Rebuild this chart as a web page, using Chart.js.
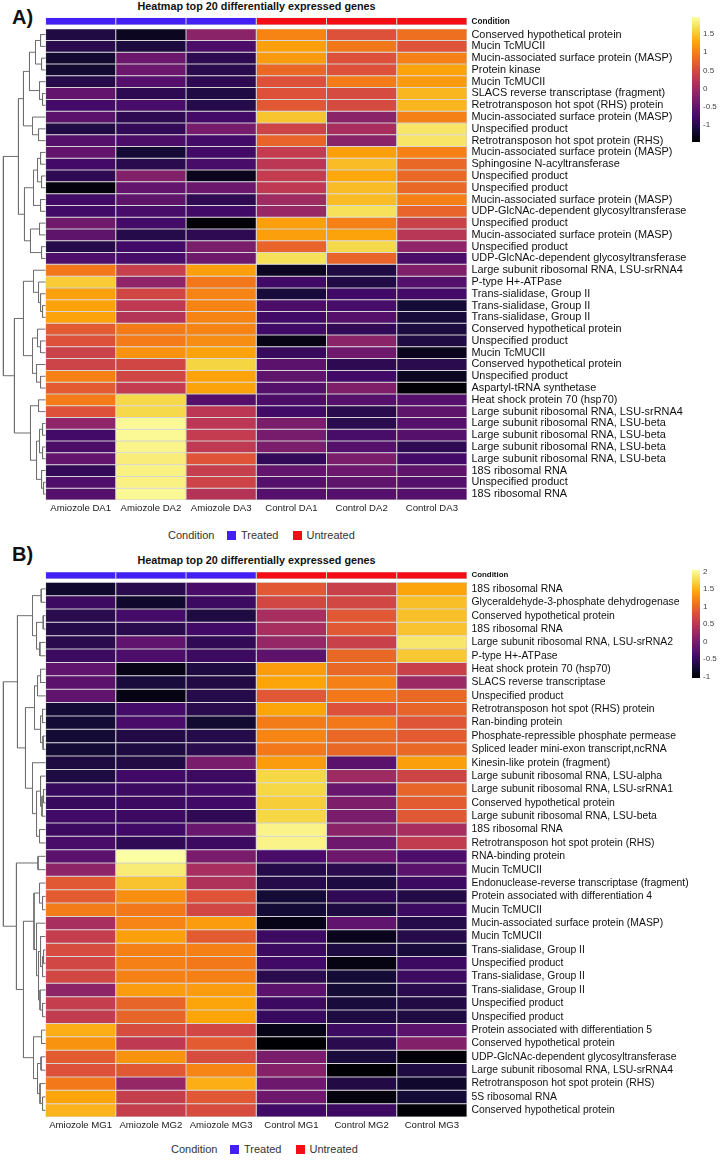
<!DOCTYPE html>
<html>
<head>
<meta charset="utf-8">
<script src="https://cdn.jsdelivr.net/npm/chart.js@4.4.1/dist/chart.umd.min.js"></script>
<style>
  html,body{margin:0;padding:0;background:#fff;}
  body{width:724px;height:1160px;position:relative;overflow:hidden;font-family:"Liberation Sans",Arial,Helvetica,sans-serif;}
  canvas{position:absolute;}
  .panel{position:absolute;left:12px;font-weight:bold;font-size:20px;line-height:20px;color:#111;}
  .title{position:absolute;left:0;width:513px;text-align:center;font-weight:bold;font-size:10.8px;line-height:10.8px;color:#111;white-space:nowrap;}
  .legend{position:absolute;display:flex;align-items:center;height:12px;font-size:11px;color:#333;white-space:nowrap;}
  .legend .sw{display:inline-block;width:9px;height:9px;}
</style>
</head>
<body>
<div class="panel" style="top:6.5px">A)</div>
<div class="title" style="top:1px">Heatmap top 20 differentially expressed genes</div>
<canvas id="heatA" width="724" height="520" style="left:0;top:0"></canvas>
<canvas id="cbA" width="34" height="145" style="left:690px;top:7px"></canvas>
<div class="legend" id="legA" style="left:168px;top:529px"></div>

<div class="panel" style="top:544px">B)</div>
<div class="title" style="top:555px">Heatmap top 20 differentially expressed genes</div>
<canvas id="heatB" width="724" height="592" style="left:0;top:545px"></canvas>
<canvas id="cbB" width="34" height="128" style="left:690px;top:560px"></canvas>
<div class="legend" id="legB" style="left:171px;top:1143px"></div>

<script>
// ---------------- DATA ----------------
const conditionLevels = ['Treated', 'Untreated'];
const conditionColors = ['#4420F6', '#F40D17'];

// Panel A
const colLabelsA = ['Amiozole DA1', 'Amiozole DA2', 'Amiozole DA3', 'Control DA1', 'Control DA2', 'Control DA3'];
const conditionA = ['Treated', 'Treated', 'Treated', 'Untreated', 'Untreated', 'Untreated'];
const rowLabelsA = [
  'Conserved hypothetical protein',
  'Mucin TcMUCII',
  'Mucin-associated surface protein (MASP)',
  'Protein kinase',
  'Mucin TcMUCII',
  'SLACS reverse transcriptase (fragment)',
  'Retrotransposon hot spot (RHS) protein',
  'Mucin-associated surface protein (MASP)',
  'Unspecified product',
  'Retrotransposon hot spot protein (RHS)',
  'Mucin-associated surface protein (MASP)',
  'Sphingosine N-acyltransferase',
  'Unspecified product',
  'Unspecified product',
  'Mucin-associated surface protein (MASP)',
  'UDP-GlcNAc-dependent glycosyltransferase',
  'Unspecified product',
  'Mucin-associated surface protein (MASP)',
  'Unspecified product',
  'UDP-GlcNAc-dependent glycosyltransferase',
  'Large subunit ribosomal RNA, LSU-srRNA4',
  'P-type H+-ATPase',
  'Trans-sialidase, Group II',
  'Trans-sialidase, Group II',
  'Trans-sialidase, Group II',
  'Conserved hypothetical protein',
  'Unspecified product',
  'Mucin TcMUCII',
  'Conserved hypothetical protein',
  'Unspecified product',
  'Aspartyl-tRNA synthetase',
  'Heat shock protein 70 (hsp70)',
  'Large subunit ribosomal RNA, LSU-srRNA4',
  'Large subunit ribosomal RNA, LSU-beta',
  'Large subunit ribosomal RNA, LSU-beta',
  'Large subunit ribosomal RNA, LSU-beta',
  'Large subunit ribosomal RNA, LSU-beta',
  '18S ribosomal RNA',
  'Unspecified product',
  '18S ribosomal RNA'
];
const valuesA = [
  [-1.05,-1.28,-0.16, 1.03, 0.59, 0.86],
  [-0.97,-1.08,-0.70, 1.24, 0.93, 0.62],
  [-1.18,-0.43,-0.94, 1.20, 0.59, 1.00],
  [-1.18,-0.43,-0.97, 0.80, 0.59, 1.27],
  [-1.00,-0.63,-0.94, 0.59, 0.96, 1.20],
  [-0.50,-0.94,-1.04, 0.59, 0.52, 1.40],
  [-0.77,-0.73,-1.00, 0.66, 0.52, 1.40],
  [-0.57,-0.94,-0.77, 1.50,-0.16, 1.00],
  [-1.04,-0.90,-0.33, 0.42, 0.08, 1.75],
  [-0.63,-0.70,-0.77, 0.76,-0.16, 1.75],
  [-0.50,-1.15,-0.80, 0.32, 1.24, 1.00],
  [-0.77,-0.97,-0.73, 0.25, 1.44, 0.80],
  [-0.94,-0.23,-1.31, 0.32, 1.30, 0.80],
  [-1.42,-0.50,-0.43, 0.28, 1.44, 0.80],
  [-0.80,-0.53,-0.94, 0.00, 1.44, 1.00],
  [-0.80,-0.73,-0.80,-0.06, 1.70, 0.76],
  [-0.40,-0.77,-1.45, 1.24, 1.00, 0.39],
  [-0.53,-1.00,-0.94, 1.24, 1.27, 0.22],
  [-1.00,-0.80,-0.30, 0.76, 1.64,-0.13],
  [-0.67,-0.73,-0.40, 1.70, 0.76,-0.70],
  [ 0.93, 0.35, 1.24,-1.28,-1.04,-0.26],
  [ 1.54,-0.13, 0.93,-0.80,-1.04,-0.63],
  [ 1.24, 0.45, 1.03,-1.11,-0.80,-0.77],
  [ 1.27, 0.28, 1.03,-0.70,-0.73,-1.14],
  [ 1.27, 0.18, 1.03,-0.80,-0.63,-1.11],
  [ 0.69, 0.96, 1.03,-0.80,-0.90,-1.08],
  [ 0.59, 0.96, 1.10,-1.35,-0.16,-1.04],
  [ 0.39, 1.14, 1.27,-0.87,-0.40,-1.31],
  [ 0.42, 0.45, 1.61,-0.57,-0.94,-0.97],
  [ 1.00, 0.45, 1.27,-0.53,-0.80,-1.28],
  [ 0.69, 0.32, 1.27,-0.63,-0.26,-1.45],
  [ 0.96, 1.64,-0.63,-0.70,-0.63,-0.63],
  [ 0.59, 1.64, 0.25,-0.80,-0.97,-0.53],
  [-0.13, 1.92, 0.25,-0.30,-0.97,-0.63],
  [-0.77, 1.92, 0.32,-0.33,-0.73,-0.63],
  [-0.70, 1.88, 0.28,-0.30,-0.63,-0.94],
  [-0.50, 1.81, 0.62,-0.90,-0.30,-0.77],
  [-0.90, 1.85, 0.35,-0.50,-0.43,-0.53],
  [-0.67, 1.85, 0.42,-0.63,-0.53,-0.63],
  [-0.63, 1.92, 0.18,-0.63,-0.63,-0.63]
];
// row dendrogram A (hclust-style merges: negative = leaf row number, positive = earlier merge)
const mergeLeftA   = [-1,-3, 1,-6,-5, 3,-9,-8, 6,-11,-13,10,-15,12,-17,-19,15,14, 9,-24,-23,-22,-21,-27,-26,-30,-29,25,23,-32,-34,-36,31,-39,-38,33,30,29,19];
const mergeRightA  = [-2,-4, 2,-7, 4, 5,-10,7, 8,-12,-14,11,-16,13,-18,-20,16,17,18,-25, 20, 21, 22,-28, 24,-31, 26,27,28,-33,-35,-37,32,-40, 34,35,36,37,38];
const mergeHeightA = [ 5, 4,10, 3, 6,16, 7,13,22, 5, 4, 8, 5,12, 6, 4,15,21,27, 3, 5, 7,12, 5, 8, 5, 9,13,22, 7, 3, 3, 6, 2, 4, 9,15,31,42];
const colorRangeA = [-1.47, 1.97];
const colorTicksA = [-1, -0.5, 0, 0.5, 1, 1.5];

// Panel B
const colLabelsB = ['Amiozole MG1', 'Amiozole MG2', 'Amiozole MG3', 'Control MG1', 'Control MG2', 'Control MG3'];
const conditionB = ['Treated', 'Treated', 'Treated', 'Untreated', 'Untreated', 'Untreated'];
const rowLabelsB = [
  '18S ribosomal RNA',
  'Glyceraldehyde-3-phosphate dehydrogenase',
  'Conserved hypothetical protein',
  '18S ribosomal RNA',
  'Large subunit ribosomal RNA, LSU-srRNA2',
  'P-type H+-ATPase',
  'Heat shock protein 70 (hsp70)',
  'SLACS reverse transcriptase',
  'Unspecified product',
  'Retrotransposon hot spot (RHS) protein',
  'Ran-binding protein',
  'Phosphate-repressible phosphate permease',
  'Spliced leader mini-exon transcript,ncRNA',
  'Kinesin-like protein (fragment)',
  'Large subunit ribosomal RNA, LSU-alpha',
  'Large subunit ribosomal RNA, LSU-srRNA1',
  'Conserved hypothetical protein',
  'Large subunit ribosomal RNA, LSU-beta',
  '18S ribosomal RNA',
  'Retrotransposon hot spot protein (RHS)',
  'RNA-binding protein',
  'Mucin TcMUCII',
  'Endonuclease-reverse transcriptase (fragment)',
  'Protein associated with differentiation 4',
  'Mucin TcMUCII',
  'Mucin-associated surface protein (MASP)',
  'Mucin TcMUCII',
  'Trans-sialidase, Group II',
  'Unspecified product',
  'Trans-sialidase, Group II',
  'Trans-sialidase, Group II',
  'Unspecified product',
  'Unspecified product',
  'Protein associated with differentiation 5',
  'Conserved hypothetical protein',
  'UDP-GlcNAc-dependent glycosyltransferase',
  'Large subunit ribosomal RNA, LSU-srRNA4',
  'Retrotransposon hot spot protein (RHS)',
  '5S ribosomal RNA',
  'Conserved hypothetical protein'
];
const valuesB = [
  [-0.80,-0.59,-0.37, 0.87, 0.62, 1.43],
  [-0.46,-0.80,-0.46, 0.69, 0.69, 1.59],
  [-0.59,-0.40,-0.68, 0.35, 0.87, 1.59],
  [-0.62,-0.59,-0.43, 0.35, 0.87, 1.62],
  [-0.59,-0.18,-0.55, 0.22, 0.62, 1.86],
  [-0.46,-0.34,-0.46,-0.21, 1.00, 1.65],
  [-0.18,-0.93,-0.68, 1.37, 1.00, 0.62],
  [-0.24,-0.71,-0.65, 1.43, 1.18, 0.25],
  [-0.18,-0.96,-0.62, 0.87, 1.12, 1.00],
  [-0.74,-0.40,-0.59, 1.43, 0.81, 0.97],
  [-0.74,-0.37,-0.77, 1.15, 1.12, 0.84],
  [-0.74,-0.65,-0.62, 1.21, 1.00, 0.90],
  [-0.74,-0.68,-0.59, 1.12, 1.00, 1.00],
  [-0.68,-0.65, 0.00, 1.37,-0.24, 1.40],
  [-0.68,-0.43,-0.46, 1.74, 0.28, 0.66],
  [-0.49,-0.46,-0.40, 1.74,-0.12, 0.97],
  [-0.49,-0.46,-0.43, 1.68, 0.04, 0.90],
  [-0.43,-0.46,-0.55, 1.74, 0.00, 0.87],
  [-0.46,-0.43,-0.12, 1.96, 0.13, 0.35],
  [-0.37,-0.55,-0.46, 1.96,-0.09, 0.56],
  [-0.24, 2.05, 0.00,-0.37,-0.09,-0.34],
  [ 0.16, 1.90, 0.35,-0.62,-0.59,-0.24],
  [ 0.87, 1.62, 0.41,-0.62,-0.68,-0.46],
  [ 0.90, 1.28, 0.84,-0.74,-0.55,-0.65],
  [ 1.15, 1.12, 0.69,-0.74,-0.68,-0.46],
  [ 0.35, 1.21, 1.37,-0.93,-0.18,-0.62],
  [ 0.59, 1.40, 0.90,-0.46,-0.90,-0.62],
  [ 0.75, 1.18, 1.18,-0.46,-0.68,-0.71],
  [ 0.69, 1.18, 1.12,-0.43,-0.96,-0.46],
  [ 0.69, 1.18, 1.18,-0.59,-0.74,-0.46],
  [ 0.16, 1.37, 1.37,-0.24,-0.74,-0.59],
  [ 0.59, 0.97, 1.43,-0.46,-0.71,-0.65],
  [ 0.56, 0.97, 1.43,-0.49,-0.68,-0.68],
  [ 1.49, 0.75, 0.69,-0.93,-0.46,-0.24],
  [ 1.31, 0.53, 0.90,-1.05,-0.59, 0.07],
  [ 0.90, 1.31, 0.75, 0.00,-0.71,-1.02],
  [ 0.81, 0.87, 1.21, 0.10,-1.05,-0.68],
  [ 1.12, 0.22, 1.49,-0.09,-0.65,-0.80],
  [ 1.43, 0.59, 0.87,-0.09,-0.99,-0.74],
  [ 1.52, 0.59, 0.75,-0.43,-0.46,-1.02]
];
const mergeLeftB   = [-1,-3,-5, 2, 1,-7, 6,-10,-12, 8, 7,-16,12,-15,-19,14,-14,11, 5,-21,-24,-23,-28,23,-27,-32,-31,25,-26,22,-34,-36,-39,-38,32,31,30,20,19];
const mergeRightB  = [-2,-4,-6, 3, 4,-8,-9,-11,-13, 9,10,-17,-18,13,-20,15, 16,17,18,-22,-25, 21,-29,-30,24,-33, 26,27, 28,29,-35,-37,-40, 33,34,35,36,37,38];
const mergeHeightB = [4.3,2.3,5.7,9,13,5,8,3,2.5,5,11,2,3.5,5,6,9,13,20,28,7.5,3,6,2,3,5,3,5.5,7,9,11.5,4,4.5,3,5.5,8,12,22,29,42];
const colorRangeB = [-1.04, 2.05];
const colorTicksB = [-1, -0.5, 0, 0.5, 1, 1.5, 2];

// ---------------- RENDERING ----------------
Chart.defaults.font.family = '"Liberation Sans", Arial, Helvetica, sans-serif';
Chart.defaults.color = '#222';

const INFERNO = ['#000004','#160b39','#420a68','#6a176e','#932667','#bc3754','#dd513a','#f37819','#fca50a','#f6d746','#fcffa4'];
const INF_RGB = INFERNO.map(h => [parseInt(h.slice(1,3),16), parseInt(h.slice(3,5),16), parseInt(h.slice(5,7),16)]);
function inferno(t) {
  t = Math.max(0, Math.min(1, t));
  const p = t * (INF_RGB.length - 1);
  const i = Math.min(Math.floor(p), INF_RGB.length - 2);
  const f = p - i, a = INF_RGB[i], b = INF_RGB[i + 1];
  return 'rgb(' + [0,1,2].map(k => Math.round(a[k] + (b[k] - a[k]) * f)).join(',') + ')';
}

const CELL_BORDER = '#a3a3a3';
const DENDRO_SPAN = 0.60;   // width of dendrogram in column units
const X_MIN = -0.62;

function dendrogram(L, R, H) {
  const hMax = Math.max(...H);
  const s = DENDRO_SPAN / hMax;
  const nodes = [];
  const pts = [];
  const get = k => k < 0 ? { y: -k - 0.5, h: 0 } : nodes[k - 1];
  for (let i = 0; i < L.length; i++) {
    const a = get(L[i]), b = get(R[i]), h = H[i];
    nodes.push({ y: (a.y + b.y) / 2, h });
    pts.push({ x: -a.h * s, y: a.y }, { x: -h * s, y: a.y }, { x: -h * s, y: b.y }, { x: -b.h * s, y: b.y }, { x: 0, y: null });
  }
  return pts;
}

function buildHeatmap(id, p) {
  const colX = p.cols.map((_, j) => j + 0.5);
  const barBase = { type: 'bar', grouped: false, categoryPercentage: 1, barPercentage: 1,
                    borderColor: CELL_BORDER, borderWidth: 0.5, borderSkipped: false, inflateAmount: 0 };
  const datasets = [];
  datasets.push(Object.assign({}, barBase, {
    label: 'Condition',
    data: colX.map(x => ({ x, y: [p.ann[0], p.ann[1]] })),
    backgroundColor: p.cond.map(c => conditionColors[conditionLevels.indexOf(c)])
  }));
  p.values.forEach((row, i) => {
    datasets.push(Object.assign({}, barBase, {
      label: p.rows[i],
      data: row.map((v, j) => ({ x: colX[j], y: [i, i + 1] })),
      backgroundColor: row.map(v => inferno((v - p.range[0]) / (p.range[1] - p.range[0])))
    }));
  });
  datasets.push({
    type: 'line', label: 'dendrogram', data: dendrogram(p.mL, p.mR, p.mH),
    borderColor: '#6e6e6e', borderWidth: 1, pointRadius: 0, spanGaps: false, tension: 0, fill: false
  });
  const yTicks = [(p.ann[0] + p.ann[1]) / 2].concat(p.rows.map((_, i) => i + 0.5));
  const yLabels = ['Condition'].concat(p.rows);

  new Chart(document.getElementById(id), {
    type: 'bar',
    data: { datasets },
    options: {
      responsive: false, animation: false, devicePixelRatio: 1, events: [],
      layout: { padding: { top: p.padTop, left: 2, right: 0, bottom: 0 } },
      plugins: { legend: { display: false }, tooltip: { enabled: false }, title: { display: false } },
      scales: {
        x: {
          type: 'linear', position: 'bottom', min: X_MIN, max: p.cols.length, bounds: 'data', offset: false,
          grid: { display: false, drawTicks: false }, border: { display: false },
          afterBuildTicks: s => { s.ticks = colX.map(v => ({ value: v })); },
          afterFit: s => { s.height = 20; },
          ticks: { autoSkip: false, maxRotation: 0, padding: 3, color: '#1a1a1a', font: { size: 9.6 },
                   callback: (v, i) => p.cols[i] }
        },
        y: {
          type: 'linear', position: 'right', reverse: true, min: p.ann[0], max: p.rows.length, bounds: 'data',
          grid: { display: false, drawTicks: false }, border: { display: false },
          afterBuildTicks: s => { s.ticks = yTicks.map(v => ({ value: v })); },
          afterFit: s => { s.width = 257; },
          ticks: { autoSkip: false, padding: 4.5, color: '#111',
                   font: ctx => ctx.index === 0 ? { size: p.condFont, weight: 'bold' } : { size: p.labelFont },
                   callback: (v, i) => yLabels[i] }
        }
      }
    }
  });
}

function buildColorbar(id, range, ticks) {
  new Chart(document.getElementById(id), {
    type: 'bar',
    data: { labels: [''], datasets: [{
      data: [[range[0], range[1]]],
      categoryPercentage: 1, barPercentage: 1, borderWidth: 0, borderSkipped: false,
      backgroundColor: ctx => {
        const a = ctx.chart.chartArea;
        if (!a) return '#000';
        const g = ctx.chart.ctx.createLinearGradient(0, a.bottom, 0, a.top);
        INFERNO.forEach((c, i) => g.addColorStop(i / (INFERNO.length - 1), c));
        return g;
      }
    }] },
    options: {
      responsive: false, animation: false, devicePixelRatio: 1, events: [],
      layout: { padding: { top: 10, bottom: 10, left: 2, right: 0 } },
      plugins: { legend: { display: false }, tooltip: { enabled: false } },
      scales: {
        x: { display: false },
        y: {
          position: 'right', min: range[0], max: range[1], bounds: 'data',
          grid: { display: false, drawTicks: false }, border: { display: false },
          afterBuildTicks: s => { s.ticks = ticks.map(v => ({ value: v })); },
          afterFit: s => { s.width = 24; },
          ticks: { padding: 3, color: '#444', font: { size: 8 }, callback: v => String(v) }
        }
      }
    }
  });
}

function buildLegend(id) {
  const el = document.getElementById(id);
  let html = '<span>Condition</span>';
  conditionLevels.forEach((lv, i) => {
    html += '<span class="sw" style="background:' + conditionColors[i] + ';margin-left:' + (i === 0 ? 13 : 14.5) + 'px;margin-right:4.5px"></span><span>' + lv + '</span>';
  });
  el.innerHTML = html;
}

buildHeatmap('heatA', { rows: rowLabelsA, cols: colLabelsA, cond: conditionA, values: valuesA,
  mL: mergeLeftA, mR: mergeRightA, mH: mergeHeightA, range: colorRangeA, ann: [-0.95, -0.31], padTop: 17.5,
  labelFont: 10.9, condFont: 8.2 });
buildHeatmap('heatB', { rows: rowLabelsB, cols: colLabelsB, cond: conditionB, values: valuesB,
  mL: mergeLeftB, mR: mergeRightB, mH: mergeHeightB, range: colorRangeB, ann: [-0.79, -0.25], padTop: 26.7,
  labelFont: 10.4, condFont: 7.9 });
buildColorbar('cbA', colorRangeA, colorTicksA);
buildColorbar('cbB', colorRangeB, colorTicksB);
buildLegend('legA');
buildLegend('legB');
</script>
</body>
</html>
